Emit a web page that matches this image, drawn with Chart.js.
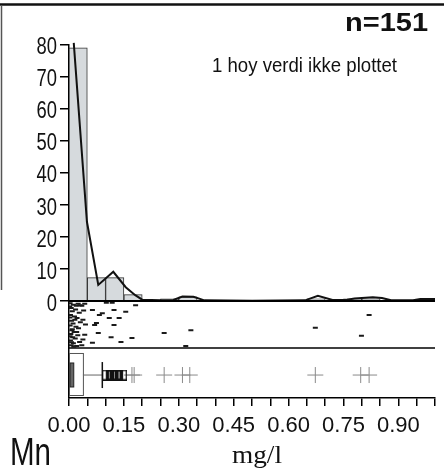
<!DOCTYPE html>
<html>
<head>
<meta charset="utf-8">
<script src="https://cdn.jsdelivr.net/npm/chart.js@4.4.1/dist/chart.umd.min.js"></script>
<style>
  html, body { margin: 0; padding: 0; background: #fff; }
  canvas { display: block; }
</style>
</head>
<body>
<canvas id="chart" width="444" height="472"></canvas>
<script>
// Mn, mg/l -- histogram in percent of samples, 0.05 mg/l bins (bin centres)
const binCentres = [0.025, 0.075, 0.125, 0.175, 0.275, 0.325, 0.675, 0.775, 0.825];
const binPercent = [79.0, 7.3, 7.3, 2.0, 0.7, 1.3, 0.7, 0.7, 0.7];

// frequency curve drawn over the bars
const curveX = [0.013, 0.049, 0.080, 0.121, 0.155, 0.181, 0.200, 0.250, 0.285, 0.310, 0.340, 0.370,
                0.500, 0.645, 0.680, 0.720, 0.760, 0.780, 0.830, 0.855, 0.880, 0.940, 0.960, 1.000];
const curveY = [80.5, 24.7, 5.0, 9.1, 4.3, 1.8, 0.4, 0.2, 0.3, 1.4, 1.3, 0.2,
                0.1, 0.2, 1.6, 0.3, 0.4, 0.8, 1.2, 0.9, 0.2, 0.2, 0.6, 0.6];

// one-dimensional scatter (rug): value and vertical jitter (0 = top, 1 = bottom of strip)
const rugX = [0.003, 0.012, 0.025, 0.035, 0.006, 0.018, 0.009, 0.028, 0.004, 0.015, 0.022, 0.007, 0.031,
              0.011, 0.003, 0.019, 0.026, 0.008, 0.014, 0.005, 0.024, 0.010, 0.017, 0.004, 0.029, 0.012,
              0.006, 0.021, 0.002, 0.016, 0.009, 0.003, 0.013, 0.040, 0.045, 0.038, 0.002, 0.020, 0.007,
              0.043, 0.064, 0.091, 0.102, 0.118, 0.123, 0.155, 0.182, 0.038, 0.070, 0.110, 0.137, 0.123,
              0.021, 0.043, 0.080, 0.115, 0.172, 0.142, 0.064, 0.035, 0.083, 0.075, 0.030,
              0.260, 0.333, 0.319, 0.673, 0.799, 0.820];
const rugJitter = [0.05, 0.08, 0.06, 0.10, 0.15, 0.18, 0.22, 0.25, 0.30, 0.33, 0.36, 0.42, 0.45,
                   0.48, 0.52, 0.55, 0.58, 0.62, 0.66, 0.70, 0.73, 0.77, 0.80, 0.84, 0.87, 0.90,
                   0.94, 0.96, 0.12, 0.40, 0.60, 0.75, 0.97, 0.20, 0.50, 0.82, 0.35, 0.10, 0.88,
                   0.06, 0.19, 0.26, 0.04, 0.04, 0.19, 0.23, 0.09, 0.40, 0.51, 0.36, 0.36, 0.51,
                   0.66, 0.72, 0.68, 0.77, 0.79, 0.87, 0.89, 0.94, 0.30, 0.47, 0.09,
                   0.68, 0.62, 0.96, 0.57, 0.74, 0.30];

// box plot
const boxLow = 0.0, boxHigh = 0.038;
const medianBand = [0.003, 0.013];
const whiskerEnd = 0.091;
const nearOutliers = [0.097, 0.108, 0.111, 0.114, 0.121, 0.124, 0.127, 0.134, 0.137, 0.140, 0.151];
const farOutliers = [0.172, 0.178, 0.260, 0.310, 0.330, 0.673, 0.797, 0.820];

const yTicksMax = 80;
const RUG_DEPTH = 14.66;   // strip below zero, in y units
const Y_MIN = -30.26;
const BOX_MID = -23.1;

const sans = "'Liberation Sans', Arial, sans-serif";

// tall open rectangle used for the near outliers
const tallBox = document.createElement('canvas');
tallBox.width = 6; tallBox.height = 11;
(function(){
  const g = tallBox.getContext('2d');
  g.strokeStyle = '#111'; g.lineWidth = 1.5;
  g.strokeRect(0.75, 0.75, 4.5, 9.5);
})();

function drawFitted(ctx, text, x, y, font, width, align){
  ctx.save();
  ctx.font = font;
  const w = ctx.measureText(text).width;
  const sx = width / w;
  ctx.translate(x, y);
  ctx.scale(sx, 1);
  ctx.textAlign = align || 'left';
  ctx.textBaseline = 'alphabetic';
  ctx.fillText(text, 0, 0);
  ctx.restore();
}

const panels = {
  id: 'panels',
  afterDatasetsDraw(chart){
    const {ctx, chartArea: a, scales: {x, y}} = chart;
    const zero = y.getPixelForValue(0);
    const rugBottom = y.getPixelForValue(-RUG_DEPTH);
    ctx.save();
    ctx.strokeStyle = '#000';
    // baseline + strip separators
    ctx.lineWidth = 2;
    ctx.beginPath(); ctx.moveTo(a.left, zero); ctx.lineTo(a.right, zero); ctx.stroke();
    ctx.lineWidth = 1.5;
    ctx.beginPath(); ctx.moveTo(a.left, rugBottom); ctx.lineTo(a.right, rugBottom); ctx.stroke();

    // box plot
    const top = rugBottom, bottom = a.bottom;
    const mid = y.getPixelForValue(BOX_MID);
    const x1 = x.getPixelForValue(boxLow), x2 = x.getPixelForValue(boxHigh);
    ctx.strokeStyle = '#555'; ctx.lineWidth = 1;
    ctx.strokeRect(x1 + 0.5, top + 5.5, x2 - x1, bottom - top - 8);
    const m1 = x.getPixelForValue(medianBand[0]), m2 = x.getPixelForValue(medianBand[1]);
    ctx.fillStyle = '#666';
    ctx.fillRect(m1, top + 15, m2 - m1, 24);
    ctx.strokeStyle = '#222';
    ctx.strokeRect(m1, top + 15, m2 - m1, 24);
    const w = x.getPixelForValue(whiskerEnd);
    ctx.strokeStyle = '#666';
    ctx.beginPath(); ctx.moveTo(x2, mid); ctx.lineTo(w, mid); ctx.stroke();
    ctx.strokeStyle = '#111'; ctx.lineWidth = 1.5;
    ctx.beginPath(); ctx.moveTo(w, mid - 13); ctx.lineTo(w, mid + 13); ctx.stroke();

    // outer frame remnants
    ctx.strokeStyle = '#111'; ctx.lineWidth = 2.5;
    ctx.beginPath(); ctx.moveTo(0, 4.5); ctx.lineTo(chart.width, 4.5); ctx.stroke();
    ctx.strokeStyle = '#555'; ctx.lineWidth = 1.5;
    ctx.beginPath(); ctx.moveTo(1.5, 5); ctx.lineTo(1.5, 290); ctx.stroke();
    ctx.restore();
  },
  afterDraw(chart){
    const ctx = chart.ctx;
    const y = chart.scales.y;
    ctx.save();
    ctx.fillStyle = '#111';
    // y tick labels, condensed like the original
    y.ticks.forEach(t => {
      const label = String(t.value);
      ctx.font = "23px " + sans;
      const w = ctx.measureText(label).width * 0.8;
      drawFitted(ctx, label, 57, y.getPixelForValue(t.value) + 9.7, "23px " + sans, w, 'right');
    });
    drawFitted(ctx, 'n=151', 428, 31, "bold 26px " + sans, 83, 'right');
    drawFitted(ctx, '1 hoy verdi ikke plottet', 212, 72, "21px " + sans, 185, 'left');
    drawFitted(ctx, 'mg/l', 257, 463, "26px 'Liberation Serif', 'Times New Roman', serif", 50, 'center');
    drawFitted(ctx, 'Mn', 10, 465, "39px " + sans, 41, 'left');
    ctx.restore();
  }
};

new Chart(document.getElementById('chart'), {
  type: 'bar',
  data: {
    datasets: [
      {
        type: 'line',
        data: curveX.map((v, i) => ({x: v, y: curveY[i]})),
        borderColor: '#111', borderWidth: 2, pointRadius: 0, tension: 0,
        fill: false, clip: false, order: 0
      },
      {
        type: 'bar',
        data: binCentres.map((v, i) => ({x: v, y: binPercent[i]})),
        backgroundColor: '#d6dadd', borderColor: '#333', borderWidth: 1,
        borderSkipped: 'start', barPercentage: 1, categoryPercentage: 1, order: 3
      },
      {
        type: 'scatter',
        data: rugX.map((v, i) => ({x: v, y: -rugJitter[i] * RUG_DEPTH})),
        pointStyle: 'line', pointRadius: 2.5, borderColor: '#1a1a1a', borderWidth: 2,
        showLine: false, order: 1
      },
      {
        type: 'scatter',
        data: nearOutliers.map(v => ({x: v, y: BOX_MID})),
        pointStyle: tallBox, pointRadius: 4, showLine: false, order: 1
      },
      {
        type: 'scatter',
        data: farOutliers.map(v => ({x: v, y: BOX_MID})),
        pointStyle: 'cross', pointRadius: 8, borderColor: '#8a8a8a', borderWidth: 1,
        showLine: false, order: 1
      }
    ]
  },
  options: {
    responsive: false,
    animation: false,
    devicePixelRatio: 1,
    layout: { padding: { top: 44.5, left: 0, right: 0, bottom: 0 } },
    plugins: { legend: { display: false }, tooltip: { enabled: false } },
    scales: {
      x: {
        type: 'linear', min: 0, max: 1, offset: false,
        border: { display: true, color: '#000', width: 1.5 },
        grid: { offset: false, drawOnChartArea: false, drawTicks: true, tickLength: 8, color: '#000', lineWidth: 1.5 },
        ticks: {
          stepSize: 0.05, autoSkip: false, maxRotation: 0, padding: 7, color: '#111',
          font: { family: sans, size: 22 },
          callback: v => (Math.round(v * 100) % 15 === 0 && v < 0.99) ? v.toFixed(2) : ''
        },
        afterFit: s => { s.height = 74; }
      },
      y: {
        min: Y_MIN, max: yTicksMax,
        border: { display: true, color: '#000', width: 1.5 },
        grid: { drawOnChartArea: false, tickLength: 9, color: '#000', lineWidth: 1.5 },
        ticks: { stepSize: 10, padding: 2, callback: () => '' },
        afterBuildTicks: s => { s.ticks = s.ticks.filter(t => t.value >= 0); },
        afterFit: s => { s.width = 69; }
      }
    }
  },
  plugins: [panels]
});
</script>
</body>
</html>
